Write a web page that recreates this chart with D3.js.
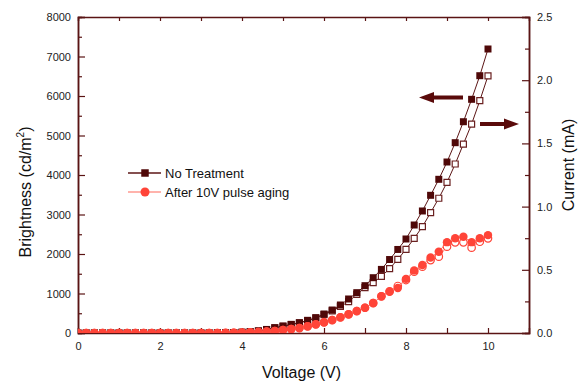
<!DOCTYPE html>
<html>
<head>
<meta charset="utf-8">
<script src="https://cdn.jsdelivr.net/npm/d3@7/dist/d3.min.js"></script>
<style>
  body { margin: 0; background: #fff; }
  svg { display: block; font-family: "Liberation Sans", Arial, sans-serif; }
  .tick text { font-size: 11px; fill: #222; }
</style>
</head>
<body>
<div id="chart"></div>
<script>
// voltage steps (V)
const voltage = [0, 0.2, 0.4, 0.6, 0.8, 1.0, 1.2, 1.4, 1.6, 1.8,
  2.0, 2.2, 2.4, 2.6, 2.8, 3.0, 3.2, 3.4, 3.6, 3.8,
  4.0, 4.2, 4.4, 4.6, 4.8, 5.0, 5.2, 5.4, 5.6, 5.8,
  6.0, 6.2, 6.4, 6.6, 6.8, 7.0, 7.2, 7.4, 7.6, 7.8,
  8.0, 8.2, 8.4, 8.6, 8.8, 9.0, 9.2, 9.4, 9.6, 9.8, 10.0];

// brightness (cd/m2), no treatment
const brightNoTreat = [0, 0, 0, 0, 0, 0, 0, 0, 0, 0,
  0, 0, 0, 0, 0, 0, 1, 2, 4, 10,
  20, 35, 55, 90, 134, 177, 219, 262, 321, 388,
  481, 582, 709, 861, 1021, 1198, 1400, 1610, 1860, 2115,
  2380, 2734, 3089, 3486, 3891, 4329, 4818, 5349, 5916, 6514, 7190];

// current (mA), no treatment
const currNoTreat = [0, 0, 0, 0, 0, 0, 0, 0, 0, 0,
  0, 0, 0, 0, 0, 0, 0, 0.001, 0.002, 0.003,
  0.005, 0.01, 0.016, 0.026, 0.04, 0.053, 0.066, 0.079, 0.097, 0.117,
  0.145, 0.175, 0.21, 0.248, 0.306, 0.359, 0.398, 0.448, 0.51, 0.583,
  0.662, 0.749, 0.841, 0.952, 1.066, 1.192, 1.337, 1.495, 1.653, 1.838, 2.035];

// brightness (cd/m2), after 10V pulse aging
const brightAged = [0, 0, 0, 0, 0, 0, 0, 0, 0, 0,
  0, 0, 0, 0, 0, 0, 0, 1, 2, 5,
  10, 17, 26, 38, 51, 76, 101, 127, 169, 219,
  270, 329, 397, 473, 557, 641, 760, 930, 1046, 1140,
  1370, 1585, 1722, 1910, 2059, 2300, 2400, 2439, 2300, 2397, 2478];

// current (mA), after 10V pulse aging
const currAged = [0, 0, 0, 0, 0, 0, 0, 0, 0, 0,
  0, 0, 0, 0, 0, 0, 0, 0, 0.001, 0.002,
  0.003, 0.005, 0.008, 0.012, 0.016, 0.023, 0.031, 0.039, 0.052, 0.068,
  0.084, 0.102, 0.123, 0.147, 0.173, 0.2, 0.236, 0.29, 0.33, 0.372,
  0.419, 0.485, 0.525, 0.577, 0.604, 0.683, 0.717, 0.717, 0.675, 0.722, 0.749];

const legendLabels = ["No Treatment", "After 10V pulse aging"];

const W = 583, H = 384;
const margin = {top: 17, right: 54, bottom: 51, left: 78};

const axisColor = "#5a1414";
const sqColor = "#4f0808", sqLine = "#5c1616", sqOpen = "#6a2020";
const ciColor = "#ff4438", ciLine = "#ff7d72", ciLegendLine = "#ff9a90";

const svg = d3.select("#chart").append("svg")
  .attr("width", W).attr("height", H);

const x = d3.scaleLinear().domain([0, 11]).range([margin.left, W - margin.right]);
const yB = d3.scaleLinear().domain([0, 8000]).range([H - margin.bottom, margin.top]);
const yC = d3.scaleLinear().domain([0, 2.5]).range([H - margin.bottom, margin.top]);

// clip to plot area
svg.append("clipPath").attr("id", "plot")
  .append("rect")
  .attr("x", x(0)).attr("y", yB(8000))
  .attr("width", x(11) - x(0)).attr("height", yB(0) - yB(8000));

const styleAxis = g => {
  g.select(".domain").attr("stroke", axisColor).attr("stroke-width", 1.5);
  g.selectAll(".tick line").attr("stroke", axisColor).attr("stroke-width", 1.2);
};

// minor ticks
svg.append("g").attr("transform", `translate(${x(0)},0)`)
  .call(d3.axisLeft(yB).tickValues(d3.range(500, 8000, 1000)).tickSize(-4).tickFormat(""))
  .call(styleAxis);
svg.append("g").attr("transform", `translate(${x(11)},0)`)
  .call(d3.axisRight(yC).tickValues([0.25, 0.75, 1.25, 1.75, 2.25]).tickSize(-4).tickFormat(""))
  .call(styleAxis);

// main axes
svg.append("g").attr("transform", `translate(${x(0)},0)`)
  .call(d3.axisLeft(yB).tickValues(d3.range(0, 8001, 1000)).tickSize(-7).tickPadding(7).tickFormat(d3.format("d")))
  .call(styleAxis);
svg.append("g").attr("transform", `translate(${x(11)},0)`)
  .call(d3.axisRight(yC).tickValues([0, 0.5, 1, 1.5, 2, 2.5]).tickSize(-7).tickPadding(8).tickFormat(d3.format(".1f")))
  .call(styleAxis);
svg.append("g").attr("transform", `translate(0,${yB(0)})`)
  .call(d3.axisBottom(x).tickValues(d3.range(0, 11, 1)).tickSize(-5).tickPadding(9)
    .tickFormat(d => d % 2 === 0 ? d : ""))
  .call(styleAxis);
svg.append("g").attr("transform", `translate(0,${yB(8000)})`)
  .call(d3.axisTop(x).tickValues(d3.range(1, 11, 1)).tickSize(-4).tickFormat(""))
  .call(styleAxis);

// axis titles
svg.append("text")
  .attr("x", (x(0) + x(11)) / 2 - 2).attr("y", 378)
  .attr("text-anchor", "middle").attr("font-size", 16).attr("fill", "#111")
  .text("Voltage (V)");

const lt = svg.append("text")
  .attr("transform", `translate(31,192) rotate(-90)`)
  .attr("text-anchor", "middle").attr("font-size", 16).attr("fill", "#111");
lt.append("tspan").text("Brightness (cd/m");
lt.append("tspan").attr("font-size", 10).attr("dy", -7).text("2");
lt.append("tspan").attr("dy", 7).text(")");

svg.append("text")
  .attr("transform", `translate(574,165) rotate(-90)`)
  .attr("text-anchor", "middle").attr("font-size", 16).attr("fill", "#111")
  .text("Current (mA)");

// series
const plot = svg.append("g").attr("clip-path", "url(#plot)");

function drawSeries(values, yScale, lineColor, markColor, shape, filled) {
  const pts = voltage.map((v, i) => [v, values[i]]);
  plot.append("path")
    .datum(pts)
    .attr("fill", "none")
    .attr("stroke", lineColor)
    .attr("stroke-width", 1)
    .attr("d", d3.line().x(d => x(d[0])).y(d => yScale(d[1])));
  const sym = d3.symbol().type(shape === "square" ? d3.symbolSquare : d3.symbolCircle)
    .size(shape === "square" ? (filled ? 49 : 36) : (filled ? 56 : 44));
  plot.append("g").selectAll("path")
    .data(pts)
    .join("path")
    .attr("transform", d => `translate(${x(d[0])},${yScale(d[1])})`)
    .attr("d", sym)
    .attr("fill", filled ? markColor : "#fff")
    .attr("stroke", markColor)
    .attr("stroke-width", filled ? 0 : 1.2);
}

drawSeries(currNoTreat, yC, sqLine, sqOpen, "square", false);
drawSeries(brightNoTreat, yB, sqLine, sqColor, "square", true);
drawSeries(currAged, yC, ciLine, ciColor, "circle", false);
drawSeries(brightAged, yB, ciLine, ciColor, "circle", true);

// legend
const legend = svg.append("g").attr("transform", "translate(128,173)");
const legendStyle = [
  {line: sqLine, mark: sqColor, shape: d3.symbolSquare, size: 56},
  {line: ciLegendLine, mark: ciColor, shape: d3.symbolCircle, size: 64}
];
legendLabels.forEach((label, i) => {
  const g = legend.append("g").attr("transform", `translate(0,${i * 19})`);
  g.append("line").attr("x1", 0).attr("x2", 33).attr("stroke", legendStyle[i].line).attr("stroke-width", 1.5);
  g.append("path").attr("transform", "translate(17,0)")
    .attr("d", d3.symbol().type(legendStyle[i].shape).size(legendStyle[i].size)())
    .attr("fill", legendStyle[i].mark);
  g.append("text").attr("x", 37).attr("y", 5).attr("font-size", 13).attr("fill", "#111").text(label);
});

// arrows pointing to the axes
const arrowColor = "#5a0a0a";
function arrow(x1, x2, yy) {
  const dir = Math.sign(x2 - x1);
  svg.append("line")
    .attr("x1", x1).attr("x2", x2 - dir * 10).attr("y1", yy).attr("y2", yy)
    .attr("stroke", arrowColor).attr("stroke-width", 4);
  svg.append("path")
    .attr("d", `M${x2},${yy} L${x2 - dir * 15},${yy - 5.5} L${x2 - dir * 15},${yy + 5.5} Z`)
    .attr("fill", arrowColor);
}
arrow(463, 419, 97.5);
arrow(480, 519, 124);
</script>
</body>
</html>
